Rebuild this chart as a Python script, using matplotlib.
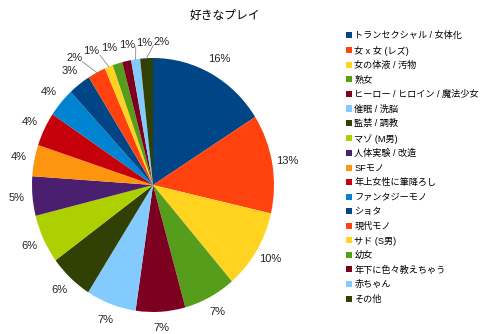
import numpy as np
import matplotlib
matplotlib.use("Agg")
import matplotlib.pyplot as plt
from matplotlib.patches import Patch

plt.rcParams['font.family'] = ['Liberation Sans', 'Noto Sans CJK JP', 'DejaVu Sans']

title = "好きなプレイ"
categories = ["トランセクシャル / 女体化", "女 x 女 (レズ)", "女の体液 / 汚物", "熟女",
              "ヒーロー / ヒロイン / 魔法少女", "催眠 / 洗脳", "監禁 / 調教", "マゾ (M男)",
              "人体実験 / 改造", "SFモノ", "年上女性に筆降ろし", "ファンタジーモノ", "ショタ",
              "現代モノ", "サド (S男)", "幼女", "年下に色々教えちゃう", "赤ちゃん", "その他"]
values = [16.0, 12.6, 10.1, 7.0, 6.6, 6.7, 5.9, 6.2, 5.0, 4.0, 4.3, 3.7, 3.0,
          2.4, 1.1, 1.3, 1.2, 1.2, 1.7]
colors = ["#004586", "#ff420e", "#ffd320", "#579d1c", "#7e0021", "#83caff", "#314004",
          "#aecf00", "#4b1f6f", "#ff950e", "#c5000b", "#0084d1", "#004586", "#ff420e",
          "#ffd320", "#579d1c", "#7e0021", "#83caff", "#314004"]

W, H = 480, 334
fig = plt.figure(figsize=(W / 100, H / 100), dpi=100)
cx, cy, RX, RY = 153, 149, 121, 127
L = 1.25
ax = fig.add_axes([(cx - RX * L) / W, (cy - RY * L) / H, 2 * RX * L / W, 2 * RY * L / H])

wedges, _ = ax.pie(values, colors=colors, startangle=90, counterclock=False,
                   wedgeprops=dict(linewidth=0), radius=1.0)
ax.set_aspect('auto')
ax.set_xlim(-L, L)
ax.set_ylim(-L, L)
ax.axis('off')

total = sum(values)
rl = 1.13
angs = []
pos = []
for w in wedges:
    a = np.deg2rad((w.theta1 + w.theta2) / 2)
    angs.append(a)
    pos.append([rl * np.cos(a), rl * np.sin(a)])
pos = np.array(pos)
nat = pos.copy()

top = [i for i in range(len(pos)) if pos[i, 1] > 0.95]
top = sorted(top, key=lambda i: pos[i, 0])
gap = 0.145
for _ in range(500):
    moved = False
    for a_, b_ in zip(top[:-1], top[1:]):
        d = pos[b_, 0] - pos[a_, 0]
        if d < gap - 1e-6:
            s = (gap - d) / 2
            pos[a_, 0] -= s
            pos[b_, 0] += s
            moved = True
    if not moved:
        break

for i, v in enumerate(values):
    ax.text(pos[i, 0], pos[i, 1], f"{100 * v / total:.0f}%", ha='center', va='center',
            fontsize=8, color='#222222')
    if abs(pos[i, 0] - nat[i, 0]) > 0.08:
        a = angs[i]
        side = 0.07 if pos[i, 0] < np.cos(a) else -0.07
        ax.plot([np.cos(a) * 1.0, pos[i, 0] + side],
                [np.sin(a) * 1.0, pos[i, 1] - 0.03], color='#888888', lw=0.6)

fig.text(225 / W, 1 - 16 / H, title, ha='center', va='center', fontsize=8.5)

handles = [Patch(facecolor=c, edgecolor='none') for c in colors]
fig.legend(handles, categories, loc='upper left', bbox_to_anchor=(346 / W, 1 - 31 / H),
           frameon=False, fontsize=6.6, handlelength=0.65, handleheight=0.65,
           handletextpad=0.25, labelspacing=0.6, borderaxespad=0, borderpad=0)

fig.savefig("out.png", dpi=100, facecolor='white')
